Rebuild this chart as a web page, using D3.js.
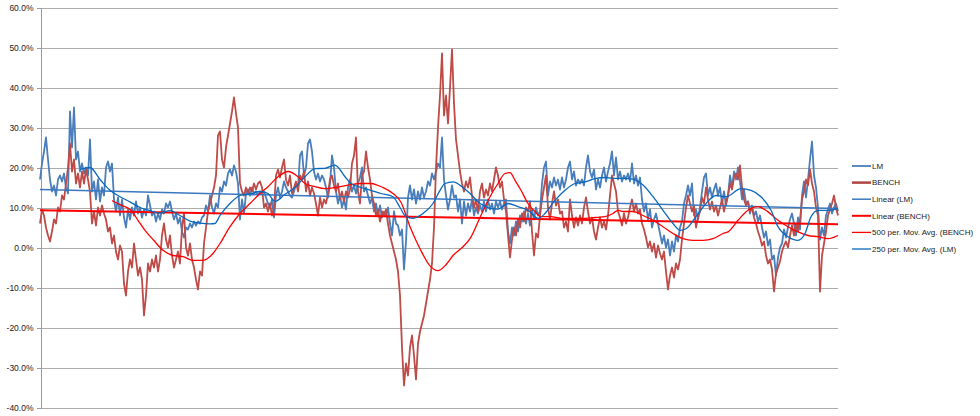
<!DOCTYPE html>
<html><head><meta charset="utf-8">
<script src="https://cdn.jsdelivr.net/npm/d3@7"></script>
<style>
body{margin:0;background:#fff}
svg{display:block}
text{font-family:"Liberation Sans",Arial,sans-serif;fill:#1a1a1a}
</style>
</head><body>
<svg id="chart" width="980" height="416"></svg>
<script>
// ---- data (values in %) ----
const yTicks = [60, 50, 40, 30, 20, 10, 0, -10, -20, -30, -40];

const lm = [
17, 21, 24, 27.5, 22, 17, 14, 15.5, 13, 17,
18, 16.5, 18.5, 15, 13.5, 34, 25, 35, 22, 24,
19, 21, 18.5, 20, 18, 27, 14, 16.5, 12, 17,
11.5, 15, 13, 20, 21.5, 19, 21, 12, 9, 12.5,
8, 12, 7.5, 5, 9.5, 7, 10, 8, 11.5, 8.5,
10, 7.5, 9.5, 8, 13, 10.5, 8, 9, 6.5, 8.5,
7, 9.5, 8.5, 11, 10, 11.5, 9, 7, 8.5, 6,
7.5, 4, 2.5, 5, 4.5, 6, 5, 6.5, 5.5, 6.5,
6, 7.5, 8, 10.5, 9, 13, 10, 8.5, 11, 10,
15, 14, 16.5, 15.5, 18.5, 19.5, 18, 20.5, 19, 16,
7, 12, 8.5, 13.5, 14.5, 13, 15, 13.5, 14, 13,
14, 13.5, 14, 12.5, 11, 10, 12, 7.5, 13, 15,
12.5, 14, 16.5, 15, 14, 13, 12.5, 14, 16, 15,
23, 24, 18, 20, 26, 27, 24, 19, 17, 18.5,
16.5, 18, 17, 15, 12.5, 16, 23, 20, 14, 11,
13, 10, 12, 9.5, 15, 17, 14, 15.5, 13.5, 16,
17.5, 20, 14, 15, 13, 11, 12.5, 9, 11, 8,
10.5, 7.5, 9, 8, 10, 6, 3, 9, 6, 5.5,
3, 4.5, -5.5, 1.5, 12.5, 15.5, 12, 14.5, 11, 14,
12, 15, 12.5, 14, 16.5, 15.5, 18.5, 17, 19, 21,
20, 27.5, 17, 13, 9.5, 12, 15.5, 12.5, 13, 9,
12, 6, 11.5, 8, 11, 9, 12, 8, 10, 8.5,
10.5, 9, 11.5, 9, 12, 9.5, 11, 8.5, 11.5, 10,
11.5, 9.5, 11, 12, 4, 1, 5, 3, 6.5, 4,
8, 6.5, 9, 6, 8.5, 5.5, 9.5, 7, 10, 8,
9, 16, 20, 21.5, 13, 16.5, 15, 17.5, 15.5, 17,
14.5, 17.5, 15, 17, 20, 21.5, 17, 19, 15.5, 17,
16, 17, 15.5, 20, 23, 19, 17.5, 19.5, 14.5, 17,
15, 18, 20, 16.5, 19, 21, 24, 18, 22.5, 17,
19, 16.5, 18, 17, 18.5, 16.5, 21, 16, 18, 15.5,
17.5, 12, 9, 11, 7, 9.5, 5, 7, 8.5, 6,
3.5, 1, 3, 0, 2, -2, 1.5, -1, 3, 1.5,
5, 6.5, 11, 13, 15.5, 13, 16, 8, 9.5, 7,
10, 14, 17.5, 18.5, 13, 15, 12.5, 14.5, 16, 13,
15, 11, 14, 10.5, 13, 18, 15, 19, 17, 20,
16.5, 12, 14.5, 11, 11.5, 8.5, 10.5, 8, 9, 6.5,
8, 5, 2.5, 4, 0.5, 2, -3, -2, -7, -2.5,
0, 1, 4.5, 2.5, 5, 7, 8.5, 6, 3, 7.5,
4.5, 13, 16.5, 12.5, 17, 22, 26.5, 18, 15, 10,
2, 5, 3, 8, 9.5, 11, 8.5, 10, 11, 9
];

const bench = [
6, 9.5, 8, 5, 3, 1.5, 4, 7, 6, 10,
9, 13, 12, 16, 20, 26, 19, 22, 16, 18.5,
15, 19, 16, 19.5, 17, 14, 6, 9, 5.5, 10,
8, 10.5, 8.5, 7, 4, 5, 1, 3, -1, -3,
0.5, -1, -9, -12, -6, -3, -5, 1, -3, -7,
-5, -8, -17, -12, -4, -6, -3, -5, -2, -6,
-3, 3, 6, 2, 0, 3, -2, -5, -3, -1,
-4, 5, 8.5, 0, -2, 1, -3, -5, -8, -10.5,
-6, -7, 1, 5, 9, 11, 13, 15, 18, 28,
29, 22, 20, 25, 28, 31, 34, 37.5, 33.5, 30,
16, 14, 13, 15, 13.5, 15, 14, 16, 14.5, 16,
16.5, 15, 10, 11, 9, 11, 8, 10, 18, 19.5,
17.5, 20, 22, 17, 15.5, 18, 13.5, 15, 16.5, 14,
18, 17, 19, 14, 16.5, 13, 15, 13.5, 11, 8,
12.5, 10, 12, 11, 13.5, 17, 18, 15.5, 14, 16,
12, 14, 11.5, 14, 12.5, 14.5, 21, 23, 27.5, 14,
11, 18, 19, 24, 20, 17, 13, 11, 8, 9.5,
6.5, 9, 8, 9.5, 6, 3, 1, -1, -3, -6,
-12, -25, -34.5, -29, -32, -25, -22, -27, -33, -24,
-21, -19, -17, -14, -11, -8, -4, 5, 20, 30,
38, 48.5, 33, 38, 31, 40, 49.5, 36, 27, 23,
19, 16, 14, 16.5, 15, 17.5, 13, 10, 12, 9,
14, 16, 12.5, 14.5, 13, 16, 14, 17, 20, 18,
15, 16.5, 12, 9, 3, -2.5, 2, 5, 3, 7,
5, 8.5, 6.5, 10, 9, 11.5, 4, -2, 3.5, 2.5,
8, 12, 15, 18, 10, 7, 11, 14, 10.5, 12,
8.5, 9, 5, 6.5, 4, 12, 8, 5, 7.5, 5.5,
8, 6, 10, 12.5, 9, 6, 7.5, 4, 2, 5,
7.5, 5, 6.5, 4.5, 8, 13, 18, 16, 14, 9,
7.5, 5.5, 8.5, 6, 7.5, 10, 12, 9, 11, 8.5,
9.5, 6, 4.5, 2.5, 0, 1.5, -1, 1, -2.5, 0.5,
-1.5, -3, -1, -6, -10.5, -7, -5, -7.5, -4, -5.5,
-3, 2, 6, 10, 13, 11, 9, 10.5, 5, 7.5,
9, 12.5, 11, 15, 12, 9.5, 11.5, 9, 10.5, 8,
10, 12, 9, 11.5, 13, 16, 14.5, 17.5, 18.5, 17,
20.5, 15, 12, 10.5, 11.5, 9, 10, 7.5, 6, 4,
2.5, 0.5, 1.5, -2, -4, -3, -5.5, -11, -6.5, -5,
-3.5, -1, 0.5, 1.5, 0, 3, 5.5, 3, 6, 4,
7, 12, 14, 17, 15.5, 19.5, 16, 14, 10, 8,
-11, -2, 1, 4, 8, 9.5, 11, 13, 10, 8
];

// linear trend lines: [value at first period, value at last period]
const lmTrend = [14.5, 9.75];
const benchTrend = [9.3, 5.8];

// moving averages: [period index, value]
const lmMA = [
[20,19.5],[25,20],[30,17],[35,14.3],[40,12.7],[45,11.4],[50,10],[55,9.2],[60,8.6],[65,9.2],
[70,8],[75,6.6],[80,6.1],[85,5.9],[87.5,6],[90,8],[95,11],[100,13],[105,13.4],[110,14],
[114,13.5],[117.5,11.5],[122.5,13.3],[127.5,15],[132.5,17.7],[137.5,19.7],[142.5,19.8],[147.5,20.6],
[152.5,17.7],[155.5,16],[160.5,15],[165.5,14.3],[170.5,13.5],[176.5,12.7],[180,10],[183,7.7],
[186.5,7.3],[191.5,8.5],[196.5,11],[200,14.3],[202.5,16],[206.5,16.4],[211.5,15],[215,13.5],
[220,11],[225,9.8],[229,9.6],[234,11],[239,10.2],[244,9.3],[249,7.3],[252.5,8.5],[257.5,11.8],
[262.5,14.3],[267.5,16],[272.5,16.4],[277.5,17.2],[282.5,17.5],[286.5,17.3],[291.5,17.3],
[296.5,17.1],[301.5,15.6],[306.5,12.7],[311.5,9.3],[316.5,6],[320,4.3],[323,4.7],[328,7.7],
[333,11],[338,13],[343,12.7],[350.5,14.7],[355.5,14.3],[360.5,12.7],[365.5,9.3],[369,5.2],
[374,2.7],[379,1.8],[382.5,3.5],[385.5,7.7],[389,9.3],[394,9.3],[399,9.7]
];
const benchMA = [
[36,11.7],[40.5,10.6],[45.5,9.3],[49,6.8],[52.5,4.3],[56.5,2],[61.5,-0.7],[66.5,-2],[71.5,-2.3],
[76.5,-3.2],[81.5,-3.2],[86.5,-1.5],[90,1],[95,5.2],[100,8.5],[105,11],[110,13.5],[114,15.2],
[119,17.7],[124,19],[129,17.7],[132.5,16],[137.5,15.2],[142.5,14.7],[147.5,15],[154,15.6],
[160.5,16],[165.5,16],[169,15.5],[171.5,15],[176.5,13.5],[180.5,11.3],[185,5.2],[190,-0.3],
[195,-4.6],[199,-5.8],[203,-4.3],[206.5,-2],[211.5,0.2],[215,2.2],[220,7.5],[225,12.7],
[229,16],[232.5,18.5],[235,18.7],[237.5,16.8],[240.5,14.3],[244,11],[247.5,9],[250.5,7.7],
[255.5,7.7],[260.5,7.3],[265.5,7.3],[272.5,7.3],[277.5,7.5],[282.5,7.7],[286.5,8.5],[289,9.3],
[291.5,9],[296.5,9],[301.5,8],[306.5,6.8],[311.5,5.2],[316.5,3.5],[321.5,2.2],[326.5,1.8],
[331.5,1.8],[336.5,2.2],[341.5,3.5],[344,3.9],[349,6.8],[354,9.3],[359,10.2],[364,8.9],
[369,6.8],[374,5.2],[379,3.9],[384,3],[389,2.7],[394,2.2],[399,3]
];

const legendLabels = ["LM", "BENCH", "Linear (LM)", "Linear (BENCH)", "500 per. Mov. Avg. (BENCH)", "250 per. Mov. Avg. (LM)"];

// ---- drawing ----
(function () {
const svg = d3.select("#chart");
const pl = 40, pr = 838, pt = 7.5, pb = 407.5;
const n = lm.length;
const x = d3.scaleLinear().domain([0, n - 1]).range([pl, pr]);
const y = d3.scaleLinear().domain([-40, 60]).range([pb, pt]);

// gridlines
svg.append("g")
  .attr("transform", `translate(${pl},0)`)
  .call(d3.axisLeft(y).tickValues(yTicks).tickSize(-(pr - pl)).tickFormat(""))
  .call(g => g.select(".domain").remove())
  .call(g => g.selectAll("line").attr("stroke", "#acacac").attr("shape-rendering", "crispEdges"));

// y axis
svg.append("g")
  .attr("transform", `translate(${pl + 0.5},0)`)
  .call(d3.axisLeft(y).tickValues(yTicks).tickSizeInner(4).tickSizeOuter(0).tickPadding(3)
        .tickFormat(d => d.toFixed(1) + "%"))
  .call(g => g.select(".domain").attr("stroke", "#9a9a9a").attr("shape-rendering", "crispEdges"))
  .call(g => g.selectAll(".tick line").attr("stroke", "#9a9a9a").attr("shape-rendering", "crispEdges"))
  .call(g => g.selectAll("text").attr("font-size", "8.5px").attr("font-family", "Liberation Sans, Arial, sans-serif").attr("fill", "#1a1a1a"));

const line = d3.line().x((d, i) => x(i)).y(d => y(d));
const smooth = d3.line().x(d => x(d[0])).y(d => y(d[1])).curve(d3.curveMonotoneX);

const styles = {
  lm:   {stroke: "#4a7ebb", width: 1.8},
  bench:{stroke: "#be4b48", width: 1.8},
  lmT:  {stroke: "#3a78c0", width: 1.5},
  bT:   {stroke: "#ff0000", width: 2},
  bMA:  {stroke: "#ff0000", width: 1.3},
  lMA:  {stroke: "#0a68bd", width: 1.3}
};

svg.append("path").datum(lm).attr("d", line).attr("fill", "none")
  .attr("stroke", styles.lm.stroke).attr("stroke-width", styles.lm.width).attr("stroke-linejoin", "round");
svg.append("path").datum(bench).attr("d", line).attr("fill", "none")
  .attr("stroke", styles.bench.stroke).attr("stroke-width", styles.bench.width).attr("stroke-linejoin", "round");

const trendLine = d3.line().x(d => x(d[0])).y(d => y(d[1]));
svg.append("path").datum([[0, lmTrend[0]], [n - 1, lmTrend[1]]]).attr("d", trendLine)
  .attr("fill", "none").attr("stroke", styles.lmT.stroke).attr("stroke-width", styles.lmT.width);
svg.append("path").datum([[0, benchTrend[0]], [n - 1, benchTrend[1]]]).attr("d", trendLine)
  .attr("fill", "none").attr("stroke", styles.bT.stroke).attr("stroke-width", styles.bT.width);

svg.append("path").datum(benchMA).attr("d", smooth).attr("fill", "none")
  .attr("stroke", styles.bMA.stroke).attr("stroke-width", styles.bMA.width);
svg.append("path").datum(lmMA).attr("d", smooth).attr("fill", "none")
  .attr("stroke", styles.lMA.stroke).attr("stroke-width", styles.lMA.width);

// legend
const legendStyles = [styles.lm, {stroke: "#b04440", width: 2.5}, styles.lmT, styles.bT, styles.bMA, styles.lMA];
const lg = svg.append("g").attr("transform", "translate(852,166)");
legendLabels.forEach((lab, i) => {
  const gy = i * 16.6;
  lg.append("line").attr("x1", 0).attr("x2", 19).attr("y1", gy).attr("y2", gy)
    .attr("stroke", legendStyles[i].stroke).attr("stroke-width", legendStyles[i].width);
  lg.append("text").attr("x", 20).attr("y", gy).attr("dy", "0.35em")
    .attr("font-size", "8px").text(lab);
});
})();
</script>
</body></html>
